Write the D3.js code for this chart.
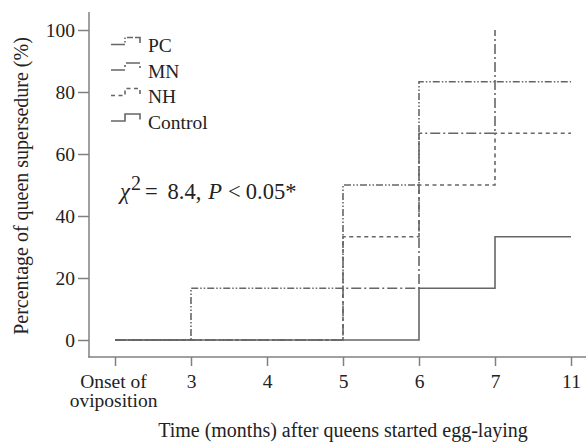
<!DOCTYPE html>
<html><head><meta charset="utf-8">
<script src="https://cdn.jsdelivr.net/npm/d3@7"></script>
<style>body{margin:0;background:#fff}svg{display:block}text{font-family:"Liberation Serif","Times New Roman",serif;fill:#222}</style>
</head><body><svg id="c" width="586" height="443"></svg>
<script>
const categories = ["Onset", "3", "4", "5", "6", "7", "11"];
const controlValues = [0, 0, 0, 0, 16.7, 33.3, 33.3];
const pcValues = [0, 16.7, 16.7, 50, 83.3, 83.3, 83.3];
const mnValues = [0, 0, 0, 16.7, 66.7, 100];
const nhValues = [0, 0, 0, 33.3, 50, 66.7, 66.7];
const yTicks = [0, 20, 40, 60, 80, 100];
const seriesNames = ["PC", "MN", "NH", "Control"];

const styles = {PC: "7,2,1.5,2,1.5,2", MN: "10,3,2,3", NH: "4,3.5", Control: null};
const legendDash = {PC: "14,2,1.5,2,1.5,2,6,2", MN: "14,3,2,3", NH: "4,3.5", Control: null};
const series = [
  {name: "Control", values: controlValues},
  {name: "NH", values: nhValues},
  {name: "MN", values: mnValues},
  {name: "PC", values: pcValues}
];

const FS = "19.5px";
const svg = d3.select("#c");
const x = d3.scalePoint().domain(categories).range([115, 571]);
const y = d3.scaleLinear().domain([0, 100]).range([340, 30]);
const axisColor = "#808080", lineColor = "#666";

// Y axis
const ya = svg.append("g").attr("transform", "translate(89,0)")
  .call(d3.axisLeft(y).tickValues(yTicks).tickSize(11).tickPadding(3));
ya.select(".domain").remove();
ya.selectAll(".tick line").attr("stroke", axisColor).attr("stroke-width", 1.5);
ya.selectAll(".tick text").style("font-size", FS).attr("fill", "#222")
  .style("font-family", '"Liberation Serif",serif');
svg.append("line").attr("x1", 89).attr("x2", 89).attr("y1", 12).attr("y2", 357.5)
  .attr("stroke", axisColor).attr("stroke-width", 1.5);

// X axis
const xa = svg.append("g").attr("transform", "translate(0,357)")
  .call(d3.axisBottom(x).tickSize(9).tickFormat(() => ""));
xa.select(".domain").remove();
xa.selectAll(".tick line").attr("stroke", axisColor).attr("stroke-width", 1.5);
xa.selectAll(".tick").each(function(d) {
  const g = d3.select(this);
  if (d === "Onset") {
    g.append("text").attr("x", -2).attr("y", 31).attr("text-anchor", "middle").style("font-size", FS).text("Onset of");
    g.append("text").attr("x", -2).attr("y", 50).attr("text-anchor", "middle").style("font-size", FS).text("oviposition");
  } else {
    g.append("text").attr("y", 31).attr("text-anchor", "middle").style("font-size", FS).text(d);
  }
});
svg.append("line").attr("x1", 88.3).attr("x2", 586).attr("y1", 357).attr("y2", 357)
  .attr("stroke", axisColor).attr("stroke-width", 1.5);

// Lines
const line = d3.line().x((d, i) => x(categories[i])).y(d => y(d)).curve(d3.curveStepAfter);
series.forEach(s => {
  svg.append("path").datum(s.values).attr("d", line)
    .attr("fill", "none").attr("stroke", lineColor).attr("stroke-width", 1.6)
    .attr("stroke-dasharray", styles[s.name]);
});

// Legend
seriesNames.forEach((n, i) => {
  const yy = 52 + i * 25.5;
  const g = svg.append("g");
  g.append("path").attr("d", `M111,${yy-7.5} H125 V${yy-14.5} H140 V${yy-9}`)
    .attr("fill", "none").attr("stroke", lineColor).attr("stroke-width", 1.6)
    .attr("stroke-dasharray", legendDash[n]);
  g.append("text").attr("x", 148).attr("y", yy).style("font-size", FS).text(n);
});

// Annotation
const t = svg.append("text").attr("x", 120).attr("y", 199).style("font-size", "22.5px");
t.append("tspan").style("font-style", "italic").text("χ");
t.append("tspan").attr("dy", -9).attr("dx", 1).style("font-size", "20px").text("2");
t.append("tspan").attr("dy", 9).attr("dx", 4).text("=");
t.append("tspan").attr("dx", 10).text("8.4,");
t.append("tspan").attr("dx", 7).style("font-style", "italic").text("P");
t.append("tspan").attr("dx", 6).text("<");
t.append("tspan").attr("dx", 5).text("0.05*");

// Axis titles
svg.append("text").attr("x", 343).attr("y", 437).attr("text-anchor", "middle")
  .style("font-size", "20px").text("Time (months) after queens started egg-laying");
svg.append("text").attr("transform", "translate(28,186) rotate(-90)").attr("text-anchor", "middle")
  .style("font-size", "20px").text("Percentage of queen supersedure (%)");
</script></body></html>
